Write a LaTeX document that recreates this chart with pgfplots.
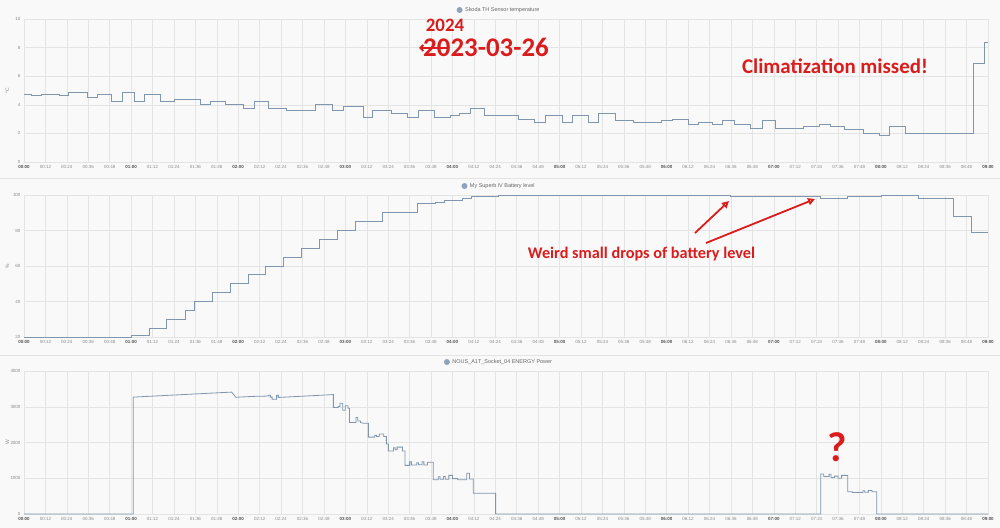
\documentclass[border=0pt]{standalone}
\usepackage{fontspec}
\setmainfont{Liberation Sans}
\newfontfamily\calfont{Carlito}
\usepackage{pgfplots}
\pgfplotsset{compat=1.18}
\usetikzlibrary{arrows.meta}
\definecolor{bgc}{HTML}{F9F9F9}
\definecolor{gridc}{HTML}{E4E4E4}
\definecolor{linec}{HTML}{7F96AE}
\definecolor{dotc}{HTML}{8EA3BC}
\definecolor{tickc}{HTML}{8A8A8A}
\definecolor{hourc}{HTML}{555555}
\definecolor{annot}{HTML}{DA1C1C}
\newcommand\hb[1]{\textbf{\color{hourc}#1}}
\newcommand\leg[1]{\tikz[baseline=-0.55ex]\fill[dotc] (0,0) circle (3bp);\hspace{2.5bp}#1}
\pgfplotsset{panel/.style={
 scale only axis, width=964bp, height=143bp, anchor=south west,
 xmin=0, xmax=540, xtick={0,12,...,540},
 xticklabels={\hb{00:00},00:12,00:24,00:36,00:48,
\hb{01:00},01:12,01:24,01:36,01:48,
\hb{02:00},02:12,02:24,02:36,02:48,
\hb{03:00},03:12,03:24,03:36,03:48,
\hb{04:00},04:12,04:24,04:36,04:48,
\hb{05:00},05:12,05:24,05:36,05:48,
\hb{06:00},06:12,06:24,06:36,06:48,
\hb{07:00},07:12,07:24,07:36,07:48,
\hb{08:00},08:12,08:24,08:36,08:48,
\hb{09:00}},
 grid=major, grid style={gridc, line width=0.5bp},
 axis line style={gridc, line width=0.5bp},
 major tick length=0pt,
 tick label style={font=\fontsize{4.5}{5}\selectfont, color=tickc},
 /pgf/number format/assume math mode=true,
 /pgf/number format/1000 sep={},
 axis background/.style={fill=bgc},
 clip=false,
 title style={at={(0.5,1)}, anchor=center, yshift=3bp, xshift=-8bp, font=\fontsize{5.5}{6}\selectfont, color=black!60},
 ylabel style={at={(axis description cs:0,0.5)}, anchor=center, yshift=16.5bp, font=\fontsize{5}{6}\selectfont, color=tickc},
 every axis plot/.append style={linec, line width=0.8bp},
}}
\begin{document}
\begin{tikzpicture}
\fill[bgc] (0,0) rectangle (1000bp,528bp);
\path[use as bounding box] (0,0) rectangle (1000bp,528bp);
\draw[gridc, line width=0.6bp] (0,350bp) -- (1000bp,350bp);
\draw[gridc, line width=0.6bp] (0,173bp) -- (1000bp,173bp);

\begin{axis}[panel, at={(24bp,366bp)}, ymin=0, ymax=10, ytick={0,2,...,10},
  ylabel={°C}, title={\leg{Skoda TH Sensor temperature}}]
\addplot[const plot] table {
x y
0 4.75
4 4.65
10 4.75
20 4.65
25 4.9
35.5 4.5
41 4.75
49 4.25
55 4.9
62 4.25
67.5 4.75
76.5 4.25
84 4.375
99 4.0
104.5 4.25
113 4.0
123 3.75
129 4.25
137 3.75
147 3.625
163 4.0
173 3.625
179 3.875
190 3.125
195 3.625
206 3.375
215 3.125
221 3.625
230 3.125
239 3.25
244 3.375
250 3.75
258 3.25
277 3.0
286 2.75
292 3.25
301.5 2.75
307 3.25
316 2.75
322 3.375
331 2.875
341.5 2.75
357 2.875
363 3.0
372 2.625
377.5 2.75
385.5 2.625
391 2.875
398 2.625
407 2.375
413.5 2.875
421 2.375
436.5 2.5
445.5 2.625
451.5 2.5
459.5 2.25
470 2.0
479 1.875
485 2.5
494 2.0
532 6.875
538 8.375
540 8.375
};
\end{axis}

\begin{axis}[panel, at={(24bp,191bp)}, height=142bp, ymin=20, ymax=100, ytick={20,40,...,100},
  ylabel={\%}, title={\leg{My Superb iV Battery level}}]
\addplot[const plot] table {
x y
0 20
60 21
70 25
80 30
90.5 35
95.5 40
105.5 45
115.5 50
125.5 55
135.5 60
145.5 65
155.5 70
165.5 75
175.5 80
185.5 85
200.5 90
220.5 95
230.5 96
235.5 97
245.5 98
250.5 99
265.5 100
395.5 99
446 98
461 99
480.5 100
501 98
520.5 88
530.5 79
540 79
};
\end{axis}

\begin{axis}[panel, at={(24bp,14bp)}, ymin=0, ymax=4000, ytick={0,1000,...,4000},
  ylabel={W}, title={\leg{NOUS\_A1T\_Socket\_04 ENERGY Power}}]
\addplot[sharp plot] table {
x y
0 0
61.25 0
61.25 3270
116.3 3410
117.5 3340
118.6 3265
128.5 3290
136.9 3300
136.9 3320
138 3320
138 3270
139 3270
139 3210
141.5 3210
141.5 3320
142.5 3320
142.5 3260
173.3 3340
173.3 2980
176 2980
176 3010
177 3010
177 3100
178.5 3100
178.5 2900
180 2900
180 3030
181.5 3030
181.5 2960
182.3 2960
182.3 2560
186 2560
186 2700
187 2700
187 2600
188.5 2600
188.5 2560
190.1 2540
192.9 2540
192.9 2150
196.5 2150
196.5 2200
197.5 2200
197.5 2170
199 2170
199 2240
201.5 2240
201.5 2170
203 2170
203 1960
204.1 1960
204.1 1760
207 1760
207 1850
208 1850
208 1800
209 1800
209 1870
212 1870
212 1760
213.4 1760
213.4 1360
216 1360
216 1460
217 1460
217 1370
220 1370
220 1430
221 1430
221 1380
223 1380
223 1460
224 1460
224 1370
226 1370
226 1450
229.3 1450
229.3 960
232 960
232 1040
233 1040
233 970
235 970
235 1050
236 1050
236 970
238 970
238 1080
240 1080
240 990
243 990
243 960
248 960
248 1140
249.5 1140
249.5 980
251.7 980
251.7 580
264.2 580
264.2 0
446.3 0
446.3 1120
448 1120
448 1050
451 1050
451 1110
452 1110
452 1020
454 1020
454 1060
456 1060
456 1000
458 1000
458 1080
461.4 1080
461.4 620
464 620
464 600
470 600
470 650
471 650
471 610
473 610
473 660
475 660
475 620
477.7 620
477.7 0
540 0
};
\end{axis}

% annotations
\node[annot, font=\calfont\bfseries\fontsize{19}{20}\selectfont, inner sep=0] at (445bp,502.5bp) {2024};
\node[annot, font=\calfont\bfseries\fontsize{27}{28}\selectfont, inner sep=0] at (486bp,481bp) {2023-03-26};
\draw[annot, line width=1.8bp, -{Straight Barb[length=3bp]}] (447bp,480bp) -- (419bp,480bp);
\node[annot, font=\calfont\bfseries\fontsize{21}{22}\selectfont, inner sep=0] at (835bp,462bp) {Climatization missed!};
\node[annot, font=\calfont\bfseries\fontsize{16.3}{17}\selectfont, inner sep=0] at (641.5bp,274bp) {Weird small drops of battery level};
\node[annot, font=\calfont\bfseries\fontsize{42}{44}\selectfont, inner sep=0] at (837bp,81bp) {?};
\draw[annot, line width=1.8bp, -{Triangle[open, length=7bp, width=7bp]}] (695bp,295bp) -- (729bp,327bp);
\draw[annot, line width=1.8bp, -{Triangle[open, length=7bp, width=7bp]}] (706bp,285bp) -- (815bp,329bp);
\end{tikzpicture}
\end{document}
